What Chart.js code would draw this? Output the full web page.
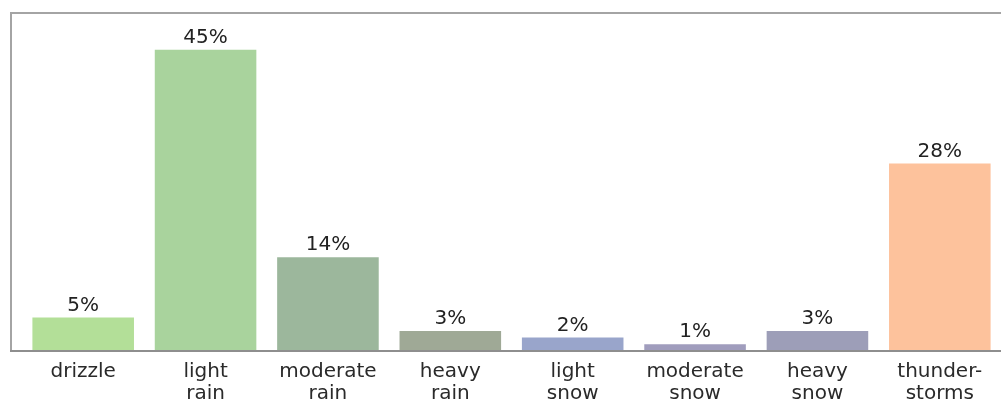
<!DOCTYPE html>
<html>
<head>
<meta charset="utf-8">
<script src="https://cdn.jsdelivr.net/npm/chart.js@4"></script>
<style>
  html, body { margin: 0; padding: 0; background: #fff; }
  #wrap { width: 1001px; height: 403px; }
</style>
</head>
<body>
<div id="wrap"><canvas id="chart" width="1001" height="403"></canvas></div>
<script>
// precipitation type share, percent
const categories = [
  'drizzle', ['light', 'rain'], ['moderate', 'rain'], ['heavy', 'rain'],
  ['light', 'snow'], ['moderate', 'snow'], ['heavy', 'snow'], ['thunder-', 'storms']
];
const shares = [5, 45, 14, 3, 2, 1, 3, 28];
const barColors = [
  '#b3df98', '#a9d39d', '#9cb79c', '#9fa996',
  '#99a5cb', '#a09dbd', '#9d9eb8', '#fdc29c'
];

const FONT = 'DejaVu Sans';

// percentage labels above each bar
const valueLabels = {
  id: 'valueLabels',
  afterDatasetsDraw(chart) {
    const ctx = chart.ctx;
    const meta = chart.getDatasetMeta(0);
    ctx.save();
    ctx.font = `20px "${FONT}"`;
    ctx.fillStyle = '#222';
    ctx.textAlign = 'center';
    ctx.textBaseline = 'alphabetic';
    meta.data.forEach((bar, i) => {
      ctx.fillText(shares[i] + '%', bar.x, bar.y - 7);
    });
    ctx.restore();
  }
};

// grey frame: left and top edges plus the baseline
const frame = {
  id: 'frame',
  afterDraw(chart) {
    const { ctx, chartArea: a } = chart;
    const left = 11;
    ctx.save();
    ctx.lineWidth = 2;
    ctx.strokeStyle = '#a4a4a4';
    ctx.beginPath();
    ctx.moveTo(left, a.bottom);
    ctx.lineTo(left, a.top);
    ctx.lineTo(chart.width, a.top);
    ctx.stroke();
    ctx.strokeStyle = '#8e8e8e';
    ctx.beginPath();
    ctx.moveTo(left - 1, a.bottom);
    ctx.lineTo(chart.width, a.bottom);
    ctx.stroke();
    ctx.restore();
  }
};

new Chart(document.getElementById('chart'), {
  type: 'bar',
  data: {
    labels: categories,
    datasets: [{
      data: shares,
      backgroundColor: barColors,
      borderWidth: 0,
      barPercentage: 0.83,
      categoryPercentage: 1.0
    }]
  },
  options: {
    responsive: false,
    animation: false,
    layout: { padding: { left: 22, right: 0, top: 13, bottom: 0 } },
    plugins: { legend: { display: false }, tooltip: { enabled: false } },
    scales: {
      x: {
        grid: { display: false, drawTicks: false },
        border: { display: false },
        ticks: {
          color: '#2a2a2a',
          font: { family: FONT, size: 20, lineHeight: 1.1 },
          padding: 10,
          maxRotation: 0,
          autoSkip: false
        },
        afterFit(scale) { scale.height = 52; }
      },
      y: {
        display: false,
        min: 0,
        max: 50.5
      }
    }
  },
  plugins: [valueLabels, frame]
});
</script>
</body>
</html>
